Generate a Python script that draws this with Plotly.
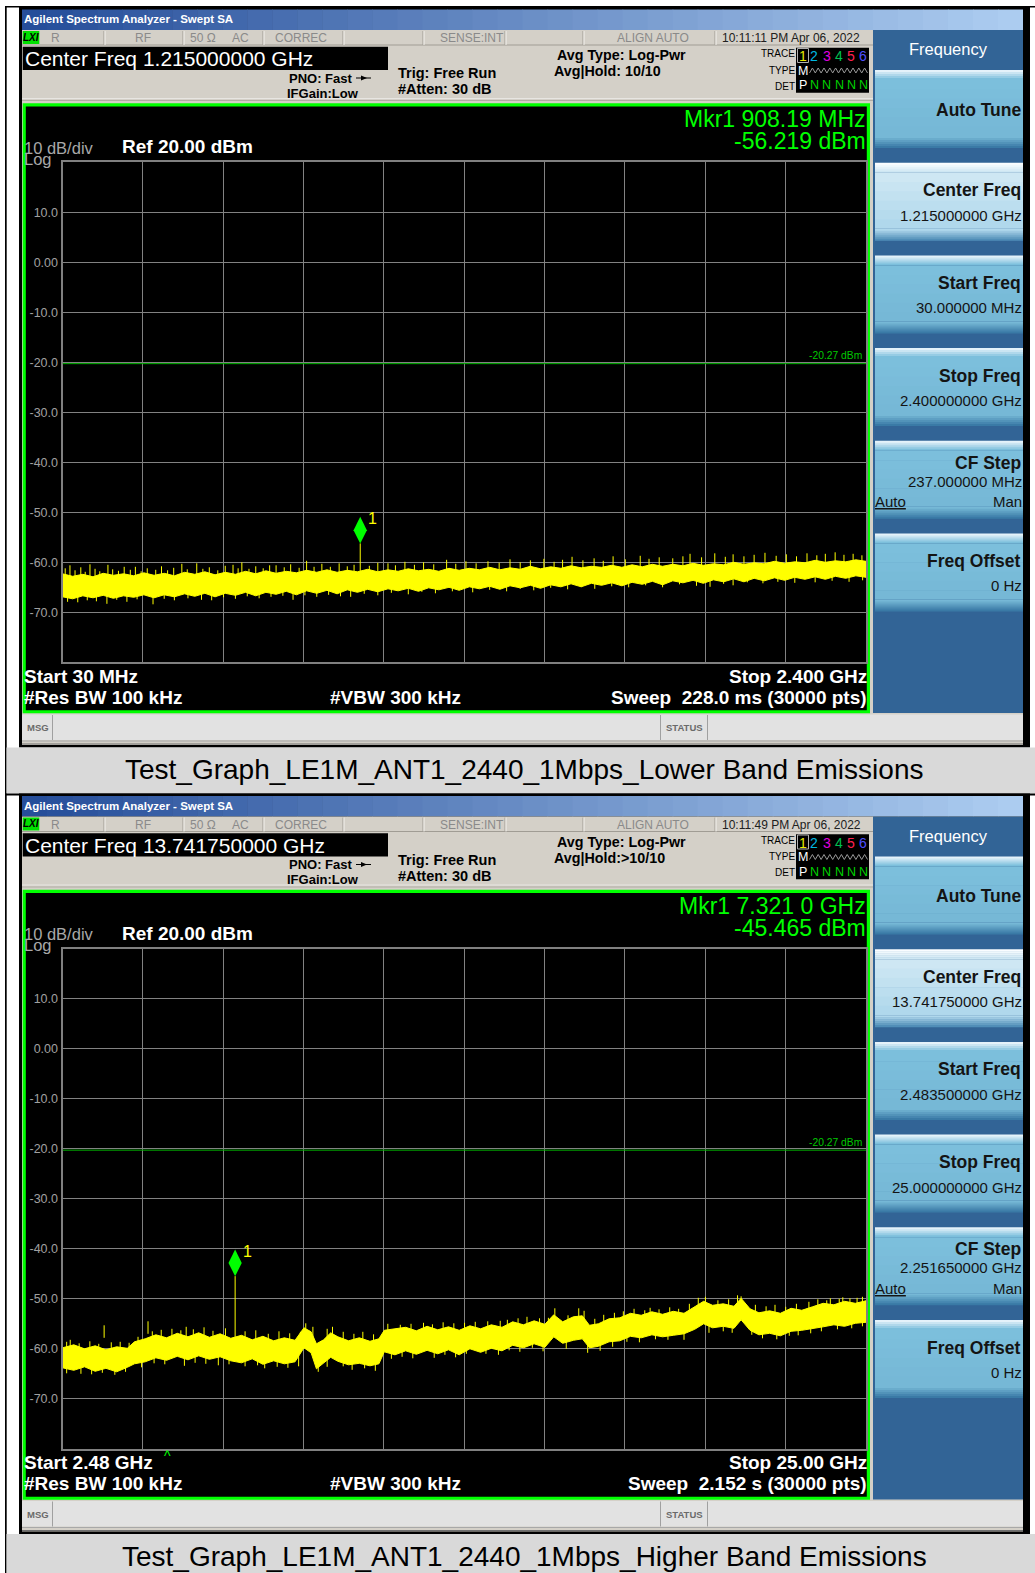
import plotly.graph_objects as go

W, H = 1035, 1573
FONT = "Liberation Sans, Arial, sans-serif"
YEL = "#ffff00"

# ---------------- DATA ----------------
Y_TICK_VALUES = [10, 0, -10, -20, -30, -40, -50, -60, -70]
Y_TICK_TEXT = ["10.0", "0.00", "-10.0", "-20.0", "-30.0", "-40.0", "-50.0", "-60.0", "-70.0"]
REF_LEVEL_DBM = 20
BOTTOM_DBM = -80
DISPLAY_LINE_DBM = -20.27

# Panel 1 : lower band, 30 MHz .. 2.4 GHz (frequency in MHz)
p1_start = 30.0
p1_stop = 2400.0
p1_freq = [30, 60, 90, 120, 150, 180, 210, 240, 270, 300,
           330, 360, 390, 420, 450, 480, 510, 540, 570, 600,
           630, 660, 690, 720, 750, 780, 810, 840, 870, 900,
           930, 960, 990, 1020, 1050, 1080, 1110, 1140, 1170, 1200,
           1230, 1260, 1290, 1320, 1350, 1380, 1410, 1440, 1470, 1500,
           1530, 1560, 1590, 1620, 1650, 1680, 1710, 1740, 1770, 1800,
           1830, 1860, 1890, 1920, 1950, 1980, 2010, 2040, 2070, 2100,
           2130, 2160, 2190, 2220, 2250, 2280, 2310, 2340, 2370, 2400]
p1_upper = [-62.3, -62.8, -62.4, -62.9, -62.2, -62.6, -62.3, -62.7, -62.1, -62.6,
            -62.2, -62.7, -62.0, -62.4, -61.9, -62.5, -62.0, -62.4, -61.8, -62.3,
            -61.7, -62.2, -61.8, -62.1, -61.6, -62.0, -61.5, -62.0, -61.6, -61.9,
            -61.4, -61.9, -61.5, -61.8, -61.3, -61.7, -61.4, -61.8, -61.2, -61.6,
            -61.2, -61.5, -61.0, -61.5, -61.1, -61.4, -60.8, -61.3, -60.9, -61.2,
            -60.7, -61.1, -60.8, -61.0, -60.6, -61.0, -60.5, -60.9, -60.4, -60.8,
            -60.4, -60.7, -60.2, -60.6, -60.3, -60.5, -60.0, -60.4, -60.1, -60.3,
            -59.8, -60.2, -59.9, -60.1, -59.6, -60.0, -59.7, -59.9, -59.5, -59.8]
p1_lower = [-66.9, -67.3, -66.7, -67.1, -66.6, -67.2, -66.7, -67.0, -66.5, -67.1,
            -66.5, -66.9, -66.3, -66.8, -66.2, -66.9, -66.2, -66.6, -66.0, -66.7,
            -66.0, -66.4, -65.8, -66.5, -65.7, -66.2, -65.6, -66.3, -65.5, -66.0,
            -65.4, -65.9, -65.3, -65.7, -65.2, -65.8, -65.1, -65.5, -65.0, -65.6,
            -64.9, -65.3, -64.8, -65.4, -64.7, -65.1, -64.6, -65.2, -64.5, -64.9,
            -64.3, -64.9, -64.2, -64.6, -64.1, -64.7, -64.0, -64.4, -63.8, -64.5,
            -63.7, -64.1, -63.6, -64.2, -63.5, -63.9, -63.3, -63.9, -63.2, -63.7,
            -63.1, -63.6, -63.0, -63.4, -62.9, -63.4, -62.8, -63.2, -62.7, -63.0]
p1_up_spike_freq = [38, 52, 67, 84, 97, 111, 126, 140, 164, 178, 195, 212, 230, 245, 262, 280, 305, 322,
                    340, 358, 382, 398, 426, 444, 463, 488, 510, 533, 548, 559, 580, 600, 622, 641, 660,
                    684, 703, 728, 750, 772, 795, 820, 846, 870, 890, 935, 960, 990, 1012, 1040, 1068,
                    1095, 1125, 1163, 1190, 1220, 1250, 1285, 1318, 1350, 1380, 1410, 1450, 1480, 1505,
                    1533, 1565, 1598, 1625, 1654, 1690, 1734, 1760, 1790, 1830, 1860, 1881, 1915, 1954,
                    1985, 2008, 2040, 2070, 2102, 2135, 2165, 2195, 2226, 2255, 2280, 2309, 2335, 2362, 2388]
p1_up_spike_dbm = [-61.2, -60.6, -61.6, -61.0, -61.9, -60.4, -61.3, -61.8, -60.5, -61.4, -61.7, -60.9, -61.5,
                   -60.9, -61.8, -61.2, -61.5, -60.8, -61.6, -61.1, -60.3, -61.4, -60.2, -61.3, -61.0, -61.6,
                   -60.7, -60.5, -61.2, -60.0, -61.3, -60.8, -61.2, -60.6, -60.6, -61.0, -60.4, -61.1, -59.7,
                   -60.9, -60.3, -60.9, -60.2, -60.8, -60.5, -60.7, -60.1, -60.2, -60.6, -59.9, -60.5, -60.0,
                   -60.4, -59.5, -60.3, -59.8, -60.2, -59.8, -60.1, -59.4, -60.0, -59.6, -59.3, -59.9, -59.5,
                   -58.9, -59.6, -59.2, -59.7, -58.8, -59.4, -58.7, -59.3, -59.0, -59.2, -58.8, -58.3, -59.0,
                   -58.2, -58.9, -58.4, -58.8, -58.5, -58.1, -58.7, -58.4, -58.8, -58.2, -58.6, -58.3, -58.0,
                   -58.5, -58.3, -58.6]
p1_down_spike_freq = [45, 75, 103, 130, 161, 190, 220, 250, 297, 330, 360, 400, 440, 470, 505, 540, 575, 610,
                      645, 680, 710, 745, 780, 815, 850, 880, 920, 960, 1000, 1050, 1090, 1130, 1180, 1240,
                      1290, 1340, 1380, 1420, 1470, 1520, 1560, 1600, 1650, 1700, 1750, 1800, 1850, 1900,
                      1940, 1980, 2008, 2050, 2096, 2140, 2190, 2250, 2300, 2350, 2390]
p1_down_spike_dbm = [-67.9, -68.0, -67.6, -67.8, -68.3, -67.5, -67.9, -67.4, -68.4, -67.3, -67.6, -67.2, -67.5,
                     -67.6, -67.0, -67.3, -66.8, -67.2, -66.9, -66.7, -67.5, -66.6, -66.9, -66.5, -66.8, -66.9,
                     -66.3, -66.6, -66.1, -66.4, -65.9, -66.2, -65.8, -66.0, -65.5, -65.8, -65.3, -65.6, -65.1,
                     -65.4, -64.9, -65.3, -64.8, -65.0, -64.6, -65.0, -64.4, -64.7, -64.9, -64.3, -64.6, -64.0,
                     -64.2, -63.9, -64.1, -64.0, -63.7, -63.9, -63.6]
p1_marker_freq = 908.19
p1_marker_dbm = -56.219
p1_marker_base = -62.0

# Panel 2 : higher band, 2.4835 GHz .. 25 GHz (frequency in GHz)
p2_start = 2.4835
p2_stop = 25.0
p2_freq = [2.4835, 2.8, 3.1, 3.4, 3.7, 4.0, 4.3, 4.5, 4.8, 5.1,
           5.4, 5.7, 6.0, 6.3, 6.6, 6.9, 7.2, 7.5, 7.8, 8.1,
           8.4, 8.7, 9.0, 9.25, 9.45, 9.6, 9.8, 10.0, 10.2, 10.5,
           10.8, 11.1, 11.35, 11.5, 11.8, 12.1, 12.4, 12.7, 13.0, 13.3,
           13.6, 13.9, 14.2, 14.5, 14.8, 15.1, 15.4, 15.7, 16.0, 16.25,
           16.5, 16.8, 17.05, 17.25, 17.5, 17.8, 18.1, 18.4, 18.7, 19.0,
           19.3, 19.6, 19.9, 20.2, 20.45, 20.7, 21.0, 21.3, 21.5, 21.75,
           22.0, 22.3, 22.6, 22.9, 23.2, 23.5, 23.8, 24.1, 24.4, 24.7,
           25.0]
p2_upper = [-59.8, -59.2, -60.0, -59.4, -60.2, -59.6, -59.9, -58.6, -58.0, -57.2,
            -57.8, -56.9, -57.6, -56.8, -57.7, -57.0, -57.9, -57.3, -58.2, -57.5,
            -58.4, -57.8, -58.3, -55.8, -56.6, -59.0, -58.2, -56.8, -57.6, -58.4,
            -57.8, -58.5, -58.0, -56.3, -56.0, -55.7, -56.4, -55.5, -56.2, -55.6,
            -56.3, -55.4, -56.0, -55.2, -55.7, -54.6, -55.2, -54.4, -55.1, -53.2,
            -54.6, -53.6, -53.4, -55.3, -55.0, -54.0, -53.8, -52.9, -53.3, -52.6,
            -53.1, -52.5, -52.9, -51.6, -50.5, -51.3, -51.0, -51.5, -49.9, -52.0,
            -52.8, -52.4, -52.9, -51.9, -52.3, -51.6, -50.9, -51.2, -50.5, -50.9,
            -50.4]
p2_lower = [-63.8, -64.3, -63.6, -64.5, -63.9, -64.6, -63.7, -63.0, -62.6, -61.8,
            -62.3, -61.5, -62.2, -61.4, -62.1, -61.6, -62.4, -62.8, -62.0, -63.1,
            -62.4, -63.0, -62.6, -59.8, -60.8, -64.0, -62.8, -61.7, -62.5, -63.2,
            -62.9, -63.4, -63.0, -60.6, -61.2, -60.4, -61.1, -60.3, -61.0, -60.2,
            -61.2, -60.0, -60.7, -59.9, -60.4, -59.3, -59.8, -59.0, -59.7, -57.6,
            -58.9, -58.3, -58.0, -59.8, -59.5, -58.6, -58.4, -57.5, -57.8, -57.2,
            -57.6, -57.3, -57.0, -56.1, -55.0, -55.8, -55.5, -55.9, -54.2, -56.3,
            -57.2, -56.9, -57.4, -56.5, -56.3, -56.0, -55.6, -55.2, -55.5, -54.9,
            -54.7]
p2_up_spike_freq = [2.6, 2.7, 2.95, 3.25, 3.5, 3.65, 3.85, 4.1, 4.35, 4.6, 4.88, 5.0, 5.25, 5.55, 5.8, 5.95,
                    6.15, 6.45, 6.7, 7.05, 7.6, 7.9, 8.25, 8.55, 8.85, 9.15, 9.3, 9.5, 9.9, 10.05, 10.35,
                    10.65, 10.9, 11.2, 11.6, 11.95, 12.25, 12.6, 12.85, 13.15, 13.45, 13.75, 14.05, 14.4,
                    14.75, 14.95, 15.25, 15.5, 15.85, 16.1, 16.28, 16.65, 16.95, 17.1, 17.4, 17.65, 17.95,
                    18.2, 18.5, 18.8, 18.95, 19.2, 19.5, 19.75, 20.05, 20.3, 20.5, 20.85, 21.15, 21.4,
                    21.5, 21.9, 22.2, 22.45, 22.75, 23.05, 23.4, 23.65, 23.9, 24.0, 24.25, 24.35, 24.55,
                    24.75, 24.9]
p2_up_spike_dbm = [-58.6, -58.2, -58.9, -58.5, -59.0, -55.3, -58.7, -58.6, -58.8, -57.6, -54.5, -56.5, -56.2,
                   -56.0, -56.3, -55.6, -56.1, -55.7, -56.4, -55.9, -56.5, -56.3, -57.0, -56.5, -56.9, -56.6,
                   -54.9, -55.6, -56.0, -55.6, -56.6, -57.0, -56.6, -57.1, -55.0, -55.2, -55.0, -54.8, -55.1,
                   -54.7, -54.9, -54.8, -54.6, -54.5, -54.4, -54.2, -53.9, -53.6, -53.9, -53.8, -51.9, -53.3,
                   -51.9, -52.4, -54.0, -53.2, -52.8, -52.5, -52.0, -52.3, -51.8, -52.1, -51.7, -52.0, -51.0,
                   -49.8, -49.6, -50.3, -50.1, -49.3, -49.5, -51.2, -51.5, -51.2, -51.6, -51.0, -50.6, -50.1,
                   -50.3, -49.9, -50.0, -49.7, -49.9, -49.8, -49.6]
p2_down_spike_freq = [2.6, 3.0, 3.3, 3.6, 3.95, 4.25, 4.7, 5.05, 5.35, 5.9, 6.2, 6.5, 6.85, 7.15, 7.6, 7.95,
                      8.15, 8.5, 8.8, 9.1, 9.65, 9.9, 10.35, 10.6, 10.95, 11.25, 11.7, 12.0, 12.3, 12.9,
                      13.2, 13.5, 13.8, 14.35, 14.7, 15.0, 15.3, 15.65, 15.95, 16.6, 17.2, 17.55, 17.9,
                      18.3, 18.65, 19.1, 19.45, 19.9, 20.6, 21.0, 21.25, 21.8, 22.1, 22.5, 22.85, 23.1,
                      23.45, 23.75, 24.2, 24.6, 24.9]
p2_down_spike_dbm = [-64.9, -65.0, -65.1, -64.8, -65.2, -64.6, -63.7, -62.9, -63.1, -63.4, -62.8, -63.0, -63.3,
                     -63.1, -63.5, -63.3, -63.9, -63.6, -63.8, -63.5, -64.6, -63.6, -63.5, -64.2, -63.9, -64.4,
                     -62.0, -61.6, -61.9, -61.8, -61.2, -61.7, -61.0, -61.0, -61.2, -60.3, -60.6, -59.8, -60.5,
                     -60.0, -60.8, -60.4, -59.6, -58.6, -58.7, -58.1, -58.2, -58.2, -56.8, -56.5, -56.8, -57.2,
                     -57.9, -58.1, -57.4, -57.3, -56.9, -56.5, -56.1, -55.9, -55.5]
p2_marker_freq = 7.321
p2_marker_dbm = -45.465
p2_marker_base = -58.5

PANEL1_TEXT = dict(
    center="Center Freq 1.215000000 GHz", avghold="Avg|Hold: 10/10",
    time="10:11:11 PM Apr 06, 2022", mkr1="Mkr1 908.19 MHz", mkr2="-56.219 dBm",
    start="Start 30 MHz", stop="Stop 2.400 GHz", sweep="Sweep\u00a0\u00a0228.0 ms (30000 pts)",
    buttons=[("Auto Tune", None), ("Center Freq", "1.215000000 GHz"), ("Start Freq", "30.000000 MHz"),
             ("Stop Freq", "2.400000000 GHz"), ("CF Step", "237.000000 MHz"), ("Freq Offset", "0 Hz")],
    caption="Test_Graph_LE1M_ANT1_2440_1Mbps_Lower Band Emissions")
PANEL2_TEXT = dict(
    center="Center Freq 13.741750000 GHz", avghold="Avg|Hold:>10/10",
    time="10:11:49 PM Apr 06, 2022", mkr1="Mkr1 7.321 0 GHz", mkr2="-45.465 dBm",
    start="Start 2.48 GHz", stop="Stop 25.00 GHz", sweep="Sweep\u00a0\u00a02.152 s (30000 pts)",
    buttons=[("Auto Tune", None), ("Center Freq", "13.741750000 GHz"), ("Start Freq", "2.483500000 GHz"),
             ("Stop Freq", "25.000000000 GHz"), ("CF Step", "2.251650000 GHz"), ("Freq Offset", "0 Hz")],
    caption="Test_Graph_LE1M_ANT1_2440_1Mbps_Higher Band Emissions")

# ---------------- helpers (page chrome in pixel space) ----------------
shapes, annots = [], []


def X(px):
    return px / W


def Y(py):
    return 1 - py / H


def rgb(c):
    return "rgb(%d,%d,%d)" % c


def mix(c0, c1, t):
    return tuple(round(a + (b - a) * t) for a, b in zip(c0, c1))


def rect(x0, y0, x1, y1, fill, layer="below", line=None, lw=0):
    shapes.append(dict(type="rect", xref="paper", yref="paper", x0=X(x0), x1=X(x1), y0=Y(y1), y1=Y(y0),
                       fillcolor=fill, line=dict(width=lw, color=line or "rgba(0,0,0,0)"), layer=layer))


def seg(x0, y0, x1, y1, color, w=1, layer="below"):
    shapes.append(dict(type="line", xref="paper", yref="paper", x0=X(x0), y0=Y(y0), x1=X(x1), y1=Y(y1),
                       line=dict(color=color, width=w), layer=layer))


def txt(px, py, s, size, color, anchor="left", weight="normal"):
    if anchor == "left":
        px -= 2
    elif anchor == "right":
        px += 3
    annots.append(dict(xref="paper", yref="paper", x=X(px), y=Y(py), text=s, showarrow=False,
                       xanchor=anchor, yanchor="middle", borderpad=0,
                       font=dict(size=size, color=color, family=FONT, weight=weight)))


def hgrad(x0, y0, x1, y1, c0, c1, n):
    for i in range(n):
        xa = x0 + (x1 - x0) * i / n
        xb = x0 + (x1 - x0) * (i + 1) / n + 0.6
        rect(xa, y0, min(xb, x1), y1, rgb(mix(c0, c1, i / (n - 1))))


def vgrad(x0, y0, x1, y1, c0, c1, n):
    for i in range(n):
        ya = y0 + (y1 - y0) * i / n
        yb = y0 + (y1 - y0) * (i + 1) / n + 0.6
        rect(x0, ya, x1, min(yb, y1), rgb(mix(c0, c1, i / (n - 1))))


def chrome(dy, t, caret=False):
    # screenshot border + background
    rect(19, 7 + dy, 1030, 747.5 + dy, "#000000")
    hgrad(22, 9.5 + dy, 1023, 30 + dy, (38, 78, 154), (172, 204, 240), 40)
    txt(25, 19.5 + dy, "Agilent Spectrum Analyzer - Swept SA", 11.5, "#ffffff", weight="bold")
    rect(22, 30 + dy, 1023, 745 + dy, "#d4d0c8")
    # status row
    seg(22, 45 + dy, 873, 45 + dy, "#a09c94")
    rect(22.7, 31 + dy, 39.3, 44 + dy, "#00e000")
    annots.append(dict(xref="paper", yref="paper", x=X(31), y=Y(37.5 + dy), text="<i>LXI</i>",
                       showarrow=False, xanchor="center", yanchor="middle",
                       font=dict(size=10, color="#000000", family=FONT, weight="bold")))
    for sx in [104, 183, 263, 343, 423, 505, 583, 715]:
        seg(sx, 31 + dy, sx, 45 + dy, "#a09c94")
        seg(sx + 1, 31 + dy, sx + 1, 45 + dy, "#f4f2ee")
    grey = "#8a8a8a"
    for s, x, a in [("R", 55, "center"), ("RF", 143, "center"), ("50 \u03a9", 203, "center"),
                    ("AC", 240, "center"), ("CORREC", 301, "center"), ("SENSE:INT", 502, "right"),
                    ("ALIGN AUTO", 653, "center")]:
        txt(x, 38 + dy, s, 12, grey, a)
    txt(723, 38 + dy, t["time"], 12, "#202020")
    # centre freq box
    rect(22.7, 46.7 + dy, 388, 70 + dy, "#000000")
    txt(26, 58.5 + dy, t["center"], 21, "#ffffff")
    # setup texts
    txt(290, 78 + dy, "PNO: Fast", 13, "#000000", weight="bold")
    seg(356, 78 + dy, 371, 78 + dy, "#000000", 1)
    shapes.append(dict(type="path", xref="paper", yref="paper", layer="below",
                       path="M %f %f L %f %f L %f %f Z" % (X(361), Y(75.5 + dy), X(367), Y(78 + dy), X(361), Y(80.5 + dy)),
                       fillcolor="#000000", line=dict(width=0)))
    txt(288, 93 + dy, "IFGain:Low", 13, "#000000", weight="bold")
    txt(399, 73 + dy, "Trig: Free Run", 14.5, "#000000", weight="bold")
    txt(399, 89 + dy, "#Atten: 30 dB", 14.5, "#000000", weight="bold")
    txt(558, 55 + dy, "Avg Type: Log-Pwr", 14.3, "#000000", weight="bold")
    txt(555, 71 + dy, t["avghold"], 14.3, "#000000", weight="bold")
    seg(22, 98.5 + dy, 873, 98.5 + dy, "#e8e6e2")
    seg(22, 100.5 + dy, 873, 100.5 + dy, "#b0aca4")
    # trace box
    txt(793, 54 + dy, "TRACE", 10, "#000000", "right")
    txt(793, 70 + dy, "TYPE", 10, "#000000", "right")
    txt(793, 86 + dy, "DET", 10, "#000000", "right")
    rect(796, 47.7 + dy, 869, 92.7 + dy, "#000000")
    rect(797.5, 48.5 + dy, 808.5, 62.5 + dy, "rgba(0,0,0,0)", line="#b0b0b0", lw=1)
    for d, c, x in [("1", "#e8e800", 803), ("2", "#00b8e0", 814), ("3", "#e000e0", 826.5),
                    ("4", "#00c050", 839), ("5", "#ff2050", 851), ("6", "#5050ff", 863)]:
        txt(x, 56 + dy, d, 14, c, "center")
    txt(803, 70.5 + dy, "M", 12.5, "#ffffff", "center")
    zz = []
    for k in range(21):
        px = 809.5 + k * 2.9
        py = 70.5 + dy + (-2.5 if k % 2 else 2.5)
        zz.append(("M" if k == 0 else "L") + " %f %f" % (X(px), Y(py)))
    shapes.append(dict(type="path", xref="paper", yref="paper", layer="above", path=" ".join(zz),
                       line=dict(color="#9a9a9a", width=1)))
    txt(803, 85.5 + dy, "P", 12.5, "#ffffff", "center")
    for x in [814, 826.5, 839, 851, 863]:
        txt(x, 85.5 + dy, "N", 12.5, "#00d000", "center")
    # green display frame
    rect(22.7, 103.3 + dy, 870, 713.3 + dy, "#00ff00")
    rect(25.8, 106.5 + dy, 866.8, 710.2 + dy, "#000000")
    txt(864, 119.5 + dy, t["mkr1"], 23, "#00ff00", "right")
    txt(864, 141.5 + dy, t["mkr2"], 23, "#00ff00", "right")
    txt(25, 147.5 + dy, "10 dB/div", 16.5, "#a8a8a8")
    txt(25, 158.5 + dy, "Log", 16.5, "#a8a8a8")
    txt(123, 146.5 + dy, "Ref 20.00 dBm", 19, "#ffffff", weight="bold")
    txt(25, 676 + dy, t["start"], 19, "#ffffff", weight="bold")
    txt(25, 697 + dy, "#Res BW 100 kHz", 19, "#ffffff", weight="bold")
    txt(331, 697 + dy, "#VBW 300 kHz", 19, "#ffffff", weight="bold")
    txt(864.5, 676 + dy, t["stop"], 19, "#ffffff", "right", weight="bold")
    txt(864.5, 697 + dy, t["sweep"], 19, "#ffffff", "right", weight="bold")
    if caret:
        txt(167, 669 + dy, "^", 14, "#00ff00", "center")
    # softkey panel
    rect(873, 30 + dy, 1023, 713 + dy, "#326496")
    txt(948, 49 + dy, "Frequency", 16.5, "#ffffff", "center")
    for i, (title, val) in enumerate(t["buttons"]):
        top = 70 + 92.7 * i + dy
        bot = top + 78
        sel = (title == "Center Freq")
        body = (206, 231, 243) if sel else (124, 191, 220)
        body2 = (176, 216, 236) if sel else (118, 184, 214)
        hi = (250, 253, 255) if sel else (228, 242, 250)
        lo = (80, 142, 184) if sel else (58, 122, 166)
        vgrad(875, top, 1023, top + 10, hi, body, 5)
        vgrad(875, top + 10, 1023, bot - 12, body, body2, 6)
        vgrad(875, bot - 12, 1023, bot, body2, lo, 6)
        dark = "#141414"
        if val is None:
            txt(1019, top + 40, title, 17.5, dark, "right", weight="bold")
        elif title == "CF Step":
            txt(1019, top + 22, title, 17.5, dark, "right", weight="bold")
            txt(1020, top + 40.5, val, 15, dark, "right")
            txt(876, top + 61, "<u>Auto</u>", 15, dark)
            txt(1020, top + 61, "Man", 15, dark, "right")
        else:
            txt(1019, top + 27.5, title, 17.5, dark, "right", weight="bold")
            txt(1020, top + 52.5, val, 15, dark, "right")
    # message bar
    rect(22, 714.5 + dy, 1023, 740 + dy, "#e2e2e2")
    seg(52.5, 715 + dy, 52.5, 740 + dy, "#a0a0a0")
    txt(37.5, 727.5 + dy, "MSG", 9.5, "#6a6a6a", "center", weight="bold")
    seg(660.5, 715 + dy, 660.5, 740 + dy, "#a0a0a0")
    seg(707.5, 715 + dy, 707.5, 740 + dy, "#a0a0a0")
    txt(684, 727.5 + dy, "STATUS", 9.5, "#6a6a6a", "center", weight="bold")
    seg(22, 741 + dy, 1023, 741 + dy, "#a8a8a8")
    seg(22, 744 + dy, 1023, 744 + dy, "#707070")
    # caption row
    rect(6.5, 747.5 + dy, 1035, 793.5 + dy, "#d9d9d9")
    rect(5, 793.5 + dy, 1035, 795.5 + dy, "#000000")
    txt(524, 769.5 + dy, t["caption"], 28, "#000000", "center")


# table lines
rect(5, 6, 1035, 7.5, "#000000")
rect(5, 6, 6.7, 1573, "#000000")

DY2 = 786.5
chrome(0, PANEL1_TEXT)
chrome(DY2, PANEL2_TEXT, caret=True)

# ---------------- traces ----------------
fig = go.Figure()
DIAMOND_HALF_DB = 2.65
SPIKE_LEN_DB = 2.5


def add_panel(xa, ya, freq, upper, lower, uf, ud, df, dd, mf, mdb, mbase):
    fig.add_trace(go.Scatter(x=list(freq) + list(freq)[::-1], y=list(upper) + list(lower)[::-1],
                             fill="toself", fillcolor=YEL, mode="lines", line=dict(color=YEL, width=1),
                             xaxis=xa, yaxis=ya, hoverinfo="skip", showlegend=False))
    xs, ys = [], []
    for f, tip in zip(uf, ud):
        xs += [f, f, None]
        ys += [tip - SPIKE_LEN_DB, tip, None]
    for f, tip in zip(df, dd):
        xs += [f, f, None]
        ys += [tip + SPIKE_LEN_DB, tip, None]
    xs += [mf, mf, None]
    ys += [mbase, mdb, None]
    fig.add_trace(go.Scatter(x=xs, y=ys, mode="lines", line=dict(color=YEL, width=1),
                             xaxis=xa, yaxis=ya, hoverinfo="skip", showlegend=False))
    fig.add_trace(go.Scatter(x=[mf], y=[mdb + DIAMOND_HALF_DB], mode="markers",
                             marker=dict(symbol="diamond-tall", size=19, color="#00ff00", line=dict(width=0)),
                             xaxis=xa, yaxis=ya, hoverinfo="skip", showlegend=False))
    annots.append(dict(xref=xa, yref=ya, x=mf, y=mdb, text="1", showarrow=False, xanchor="center",
                       yanchor="middle", xshift=12, yshift=25,
                       font=dict(size=16, color=YEL, family=FONT)))


add_panel("x", "y", p1_freq, p1_upper, p1_lower, p1_up_spike_freq, p1_up_spike_dbm,
          p1_down_spike_freq, p1_down_spike_dbm, p1_marker_freq, p1_marker_dbm, p1_marker_base)
add_panel("x2", "y2", p2_freq, p2_upper, p2_lower, p2_up_spike_freq, p2_up_spike_dbm,
          p2_down_spike_freq, p2_down_spike_dbm, p2_marker_freq, p2_marker_dbm, p2_marker_base)

GRID = "#828282"
BORDER = "#808080"


def axes(dy, start, stop):
    top, bot = 162.3 + dy, 662.3 + dy
    xa = dict(domain=[X(62.5), X(866)], range=[start, stop], tick0=start, dtick=(stop - start) / 10,
              showticklabels=False, showgrid=True, gridcolor=GRID, gridwidth=1, zeroline=False,
              showline=True, linecolor=BORDER, linewidth=2, mirror=True, ticks="", fixedrange=True)
    ya = dict(domain=[Y(bot), Y(top)], range=[BOTTOM_DBM, REF_LEVEL_DBM], tickvals=Y_TICK_VALUES,
              ticktext=Y_TICK_TEXT, tickfont=dict(size=12.5, color="#a0a0a0", family=FONT),
              showgrid=True, gridcolor=GRID, gridwidth=1, zeroline=False, showline=True,
              linecolor=BORDER, linewidth=2, mirror=True, ticks="", fixedrange=True)
    return xa, ya


xa1, ya1 = axes(0, p1_start, p1_stop)
xa2, ya2 = axes(DY2, p2_start, p2_stop)
ya1["anchor"] = "x"
xa1["anchor"] = "y"
xa2["anchor"] = "y2"
ya2["anchor"] = "x2"

for xr, yr, start, stop in [("x", "y", p1_start, p1_stop), ("x2", "y2", p2_start, p2_stop)]:
    shapes.append(dict(type="line", xref=xr, yref=yr, x0=start, x1=stop, y0=DISPLAY_LINE_DBM,
                       y1=DISPLAY_LINE_DBM, line=dict(color="#00b400", width=1), layer="above"))
    annots.append(dict(xref=xr, yref=yr, x=stop, y=DISPLAY_LINE_DBM, text="-20.27 dBm", showarrow=False,
                       xanchor="right", yanchor="middle", xshift=-2, yshift=8,
                       font=dict(size=10.3, color="#00c800", family=FONT)))

fig.update_layout(width=W, height=H, margin=dict(l=0, r=0, t=0, b=0, pad=0),
                  paper_bgcolor="#ffffff", plot_bgcolor="#000000", showlegend=False,
                  xaxis=xa1, yaxis=ya1, xaxis2=xa2, yaxis2=ya2,
                  shapes=shapes, annotations=annots)

fig.write_html("out.html", config={"displayModeBar": False},
               post_script="document.body.style.margin='0';")
